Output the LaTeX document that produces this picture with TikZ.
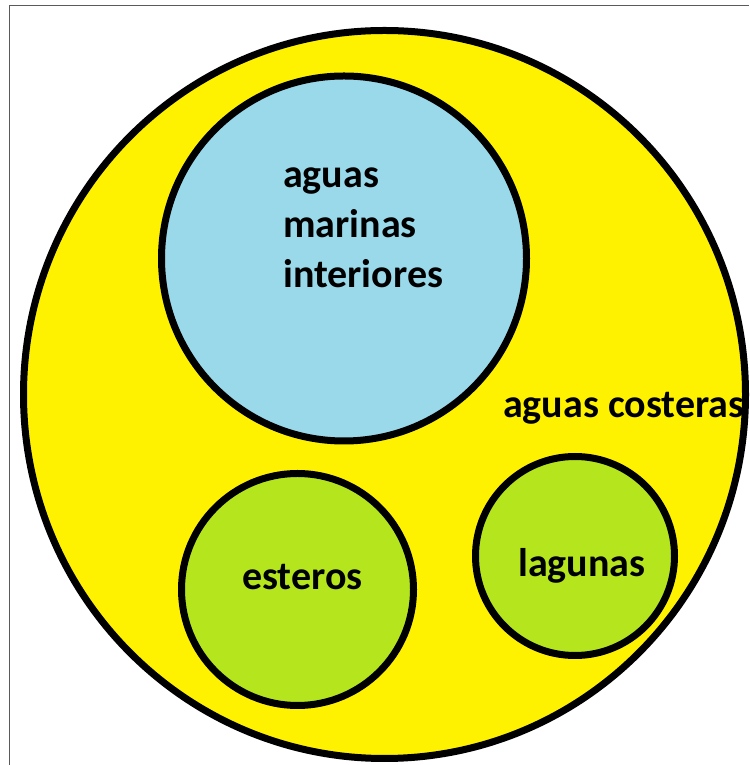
\documentclass[tikz,border=0pt]{standalone}
\usepackage{fontspec}
\setmainfont{Carlito}
\usetikzlibrary{shapes.geometric}

\definecolor{paintyellow}{HTML}{FFF200}
\definecolor{paintblue}{HTML}{99D9EA}
\definecolor{paintlime}{HTML}{B5E61D}
\definecolor{framegray}{HTML}{5A5A5A}

\begin{document}
\begin{tikzpicture}[
			x=1pt,y=1pt,
			zone/.style={
					draw=black,
					line width=7pt,
					circle,
					inner sep=0pt
				},
			label/.style={
					font=\fontsize{40}{50}\selectfont\bfseries,
					inner sep=0pt,
					align=left
				}
		]

		\useasboundingbox (0,0) rectangle (749,765);
		\clip (0,0) rectangle (749,765);

		\draw[framegray,line width=1.5pt] (9.5,0) |- (749,759.5);

		\node[zone,ellipse,fill=paintyellow,
			minimum width=722,minimum height=728] (costeras) at (384.5,370.5) {};

		\node[zone,fill=paintblue,minimum size=365] (interiores) at (344,506.5) {};

		\node[zone,fill=paintlime,minimum size=232] (esteros) at (297.5,175.5) {};

		\node[zone,fill=paintlime,minimum size=199] (lagunas) at (575,209) {};

		\node[label,anchor=base west] (txtinteriores) at (283,477)
		{aguas\\marinas\\interiores};

		\node[label,anchor=base west] (txtcosteras) at (503,347) {aguas costeras};

		\node[label,anchor=base west] (txtesteros) at (242,175) {esteros};

		\node[label,anchor=base west] (txtlagunas) at (518,188) {lagunas};

	\end{tikzpicture}
\end{document}
